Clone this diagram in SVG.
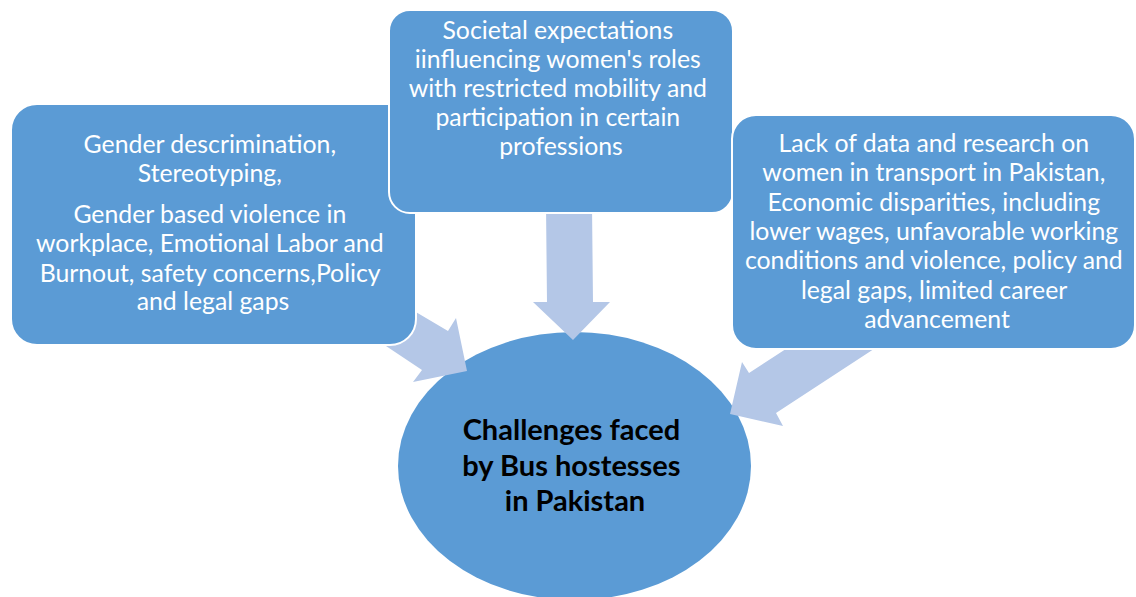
<svg xmlns="http://www.w3.org/2000/svg" width="1136" height="597" viewBox="0 0 1136 597">
  <style>
    .box { fill: #5B9BD5; stroke: #FFFFFF; stroke-width: 2; }
    .hub { fill: #5B9BD5; }
    .arrow { fill: #B4C7E7; }
    .label { font-family: Lato, "Open Sans", sans-serif; font-size: 24.8px; fill: #FFFFFF; text-anchor: middle; }
    .hub-label { font-family: Lato, "Open Sans", sans-serif; font-size: 29px; font-weight: bold; fill: #000000; text-anchor: middle; }
  </style>
  <rect width="1136" height="597" fill="#FFFFFF"/>

  <!-- central ellipse -->
  <g id="hub">
    <ellipse class="hub" cx="574.5" cy="466" rx="176.5" ry="134"/>
    <text class="hub-label">
      <tspan x="575" y="440">Challenges faced</tspan>
      <tspan x="575" y="476">by Bus hostesses</tspan>
      <tspan x="575" y="511">in Pakistan</tspan>
    </text>
  </g>

  <!-- block arrows pointing into the hub -->
  <g id="connectors">
    <polygon class="arrow" points="404,305 448,331 456,318 467,371 413,382 422,370 380,342"/>
    <polygon class="arrow" points="546,205 592,205 593,302 610,302 573,340 533,302 547,302"/>
    <polygon class="arrow" points="792,345 880,345 776,413 783,426 730,414 742,362 749,373"/>
  </g>

  <g id="node-left">
    <rect class="box" x="11" y="104" width="405" height="241" rx="26" ry="26"/>
    <text class="label">
      <tspan x="213" y="153">Gender descrimination,</tspan>
      <tspan x="213" y="182">Stereotyping,</tspan>
      <tspan x="213" y="223">Gender based violence in</tspan>
      <tspan x="213" y="252">workplace, Emotional Labor and</tspan>
      <tspan x="213" y="282">Burnout, safety concerns,Policy</tspan>
      <tspan x="213" y="310">and legal gaps</tspan>
    </text>
  </g>

  <g id="node-top">
    <rect class="box" x="389" y="10" width="344" height="203" rx="21" ry="21"/>
    <text class="label">
      <tspan x="561" y="39">Societal expectations</tspan>
      <tspan x="561" y="68">iinfluencing women's roles</tspan>
      <tspan x="561" y="97">with restricted mobility and</tspan>
      <tspan x="561" y="126">participation in certain</tspan>
      <tspan x="561" y="155">professions</tspan>
    </text>
  </g>

  <g id="node-right">
    <rect class="box" x="732" y="115" width="403" height="234" rx="24" ry="24"/>
    <text class="label">
      <tspan x="937" y="152">Lack of data and research on</tspan>
      <tspan x="937" y="181">women in transport in Pakistan,</tspan>
      <tspan x="937" y="211">Economic disparities, including</tspan>
      <tspan x="937" y="240">lower wages, unfavorable working</tspan>
      <tspan x="937" y="269">conditions and violence, policy and</tspan>
      <tspan x="937" y="299">legal gaps, limited career</tspan>
      <tspan x="937" y="328">advancement</tspan>
    </text>
  </g>
</svg>
